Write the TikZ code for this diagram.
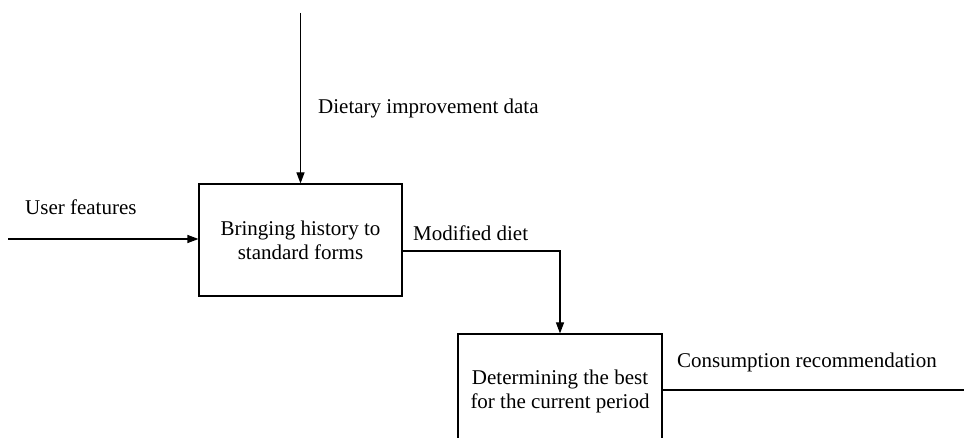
\documentclass[tikz,border=0pt]{standalone}
\usepackage{fontspec}
\setmainfont{Liberation Serif}
\usetikzlibrary{arrows.meta}
\begin{document}
\begin{tikzpicture}[x=1pt,y=-1pt,
  flow/.style={line width=1.1pt},
  arr/.style={flow,-{Triangle[length=11pt,width=8pt]}},
  proc/.style={draw,line width=1.1pt,align=center,
    font=\fontsize{21}{24}\selectfont,inner sep=0pt},
  lbl/.style={anchor=west,inner sep=0pt,font=\fontsize{21}{24}\selectfont}]
\clip (0,0) rectangle (964,438);
% process boxes
\node[proc,minimum width=203pt,minimum height=112pt] (b1) at (300.5,240)
  {Bringing history to\\standard forms};
\node[proc,minimum width=204pt,minimum height=114pt] (b2) at (560,391)
  {Determining the best\\for the current period};
% free ends of the outer connectors
\coordinate (topin) at (300.5,13);
\coordinate (leftin) at (8,239);
\coordinate (rightout) at (964,390);
% connectors
\draw[arr] (topin) -- (b1.north);
\draw[arr] (leftin) -- (leftin -| b1.west);
\draw[arr] ([yshift=-11pt]b1.east) -| (b2.north);
\draw[flow] (b2.east |- rightout) -- (rightout);
% labels
\node[lbl] (l1) at (318,108) {Dietary improvement data};
\node[lbl] (l2) at (25,207) {User features};
\node[lbl] (l3) at (413,233) {Modified diet};
\node[lbl] (l4) at (677,362) {Consumption recommendation};
\end{tikzpicture}
\end{document}
